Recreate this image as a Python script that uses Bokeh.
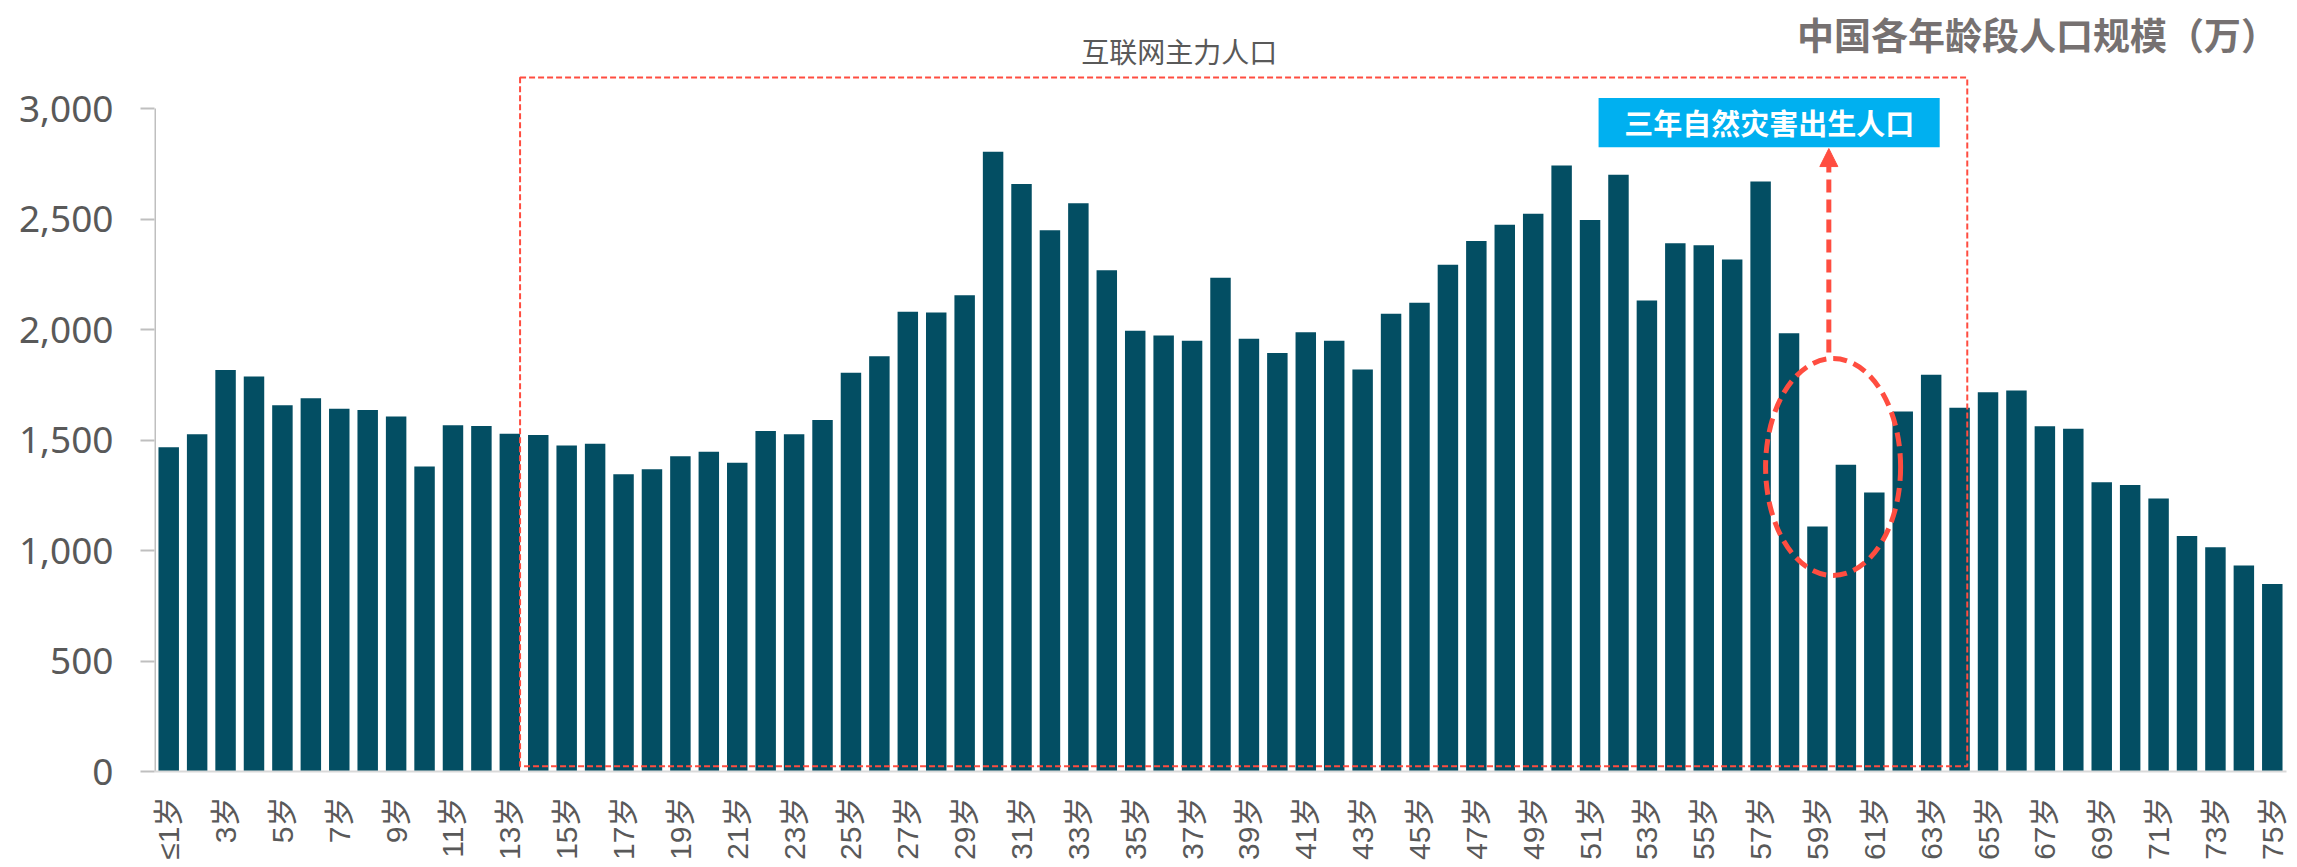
import math
from bokeh.plotting import figure
from bokeh.models import (Range1d, FixedTicker, NumeralTickFormatter, Label,
                          Arrow, NormalHead, ColumnDataSource)
from bokeh.embed import file_html
from bokeh.resources import INLINE

# ---------------- data ----------------
ages = ["≤1岁", "2岁", "3岁", "4岁", "5岁", "6岁", "7岁", "8岁", "9岁", "10岁",
        "11岁", "12岁", "13岁", "14岁", "15岁", "16岁", "17岁", "18岁", "19岁", "20岁",
        "21岁", "22岁", "23岁", "24岁", "25岁", "26岁", "27岁", "28岁", "29岁", "30岁",
        "31岁", "32岁", "33岁", "34岁", "35岁", "36岁", "37岁", "38岁", "39岁", "40岁",
        "41岁", "42岁", "43岁", "44岁", "45岁", "46岁", "47岁", "48岁", "49岁", "50岁",
        "51岁", "52岁", "53岁", "54岁", "55岁", "56岁", "57岁", "58岁", "59岁", "60岁",
        "61岁", "62岁", "63岁", "64岁", "65岁", "66岁", "67岁", "68岁", "69岁", "70岁",
        "71岁", "72岁", "73岁", "74岁", "75岁"]

population = [1467, 1526, 1817, 1787, 1657, 1689, 1641, 1636, 1606, 1380,
              1567, 1564, 1528, 1523, 1475, 1483, 1345, 1368, 1427, 1447,
              1397, 1541, 1526, 1591, 1804, 1879, 2080, 2077, 2155, 2804,
              2659, 2449, 2572, 2268, 1994, 1973, 1949, 2234, 1958, 1894,
              1988, 1949, 1819, 2071, 2121, 2293, 2401, 2474, 2524, 2742,
              2496, 2701, 2131, 2391, 2382, 2317, 2670, 1983, 1109, 1388,
              1262, 1629, 1795, 1646, 1716, 1724, 1562, 1551, 1309, 1296,
              1235, 1066, 1015, 932, 848]

y_ticks = [0, 500, 1000, 1500, 2000, 2500, 3000]

title_text = "中国各年龄段人口规模（万）"
box_text = "互联网主力人口"
callout_text = "三年自然灾害出生人口"

# ---------------- figure ----------------
RED = "#FF4D40"
GRAY = "#595959"

p = figure(width=2297, height=867, output_backend="svg", toolbar_location=None,
           x_range=Range1d(-0.5, len(ages) - 0.5), y_range=Range1d(0, 3489),
           min_border_left=154, min_border_right=11, min_border_top=0,
           min_border_bottom=96)
p.outline_line_color = None
p.grid.visible = False
p.background_fill_color = "white"
p.border_fill_color = "white"

src = ColumnDataSource(dict(x=list(range(len(ages))), top=population, age=ages))
p.vbar(x="x", top="top", bottom=0, width=0.72, source=src,
       fill_color="#034E63", line_color=None)

# y axis
ya = p.yaxis[0]
ya.ticker = FixedTicker(ticks=y_ticks)
ya.formatter = NumeralTickFormatter(format="0,0")
ya.axis_line_color = None
ya.major_tick_out = 14
ya.major_tick_in = 0
ya.major_tick_line_color = "#BFBFBF"
ya.major_tick_line_width = 2
ya.minor_tick_line_color = None
ya.major_label_text_font = "Noto Sans"
ya.major_label_text_font_size = "37px"
ya.major_label_text_color = GRAY
ya.major_label_standoff = 27
p.segment(x0=-0.5, y0=0, x1=-0.5, y1=y_ticks[-1], line_color="#BFBFBF", line_width=3)

# x axis
xa = p.xaxis[0]
even = list(range(0, len(ages), 2))
xa.ticker = FixedTicker(ticks=even)
xa.major_label_overrides = {i: ages[i] for i in even}
xa.major_label_orientation = math.pi / 2
xa.major_tick_out = 0
xa.major_tick_in = 0
xa.minor_tick_line_color = None
xa.axis_line_color = "#D9D9D9"
xa.axis_line_width = 2
xa.major_label_standoff = 25
xa.major_label_text_font = "'Liberation Sans', 'Noto Sans CJK SC'"
xa.major_label_text_font_size = "30px"
xa.major_label_text_color = GRAY

# ---------------- annotations ----------------
# internet main population box
p.quad(left=12.36, right=63.27, bottom=24, top=3140, fill_color=None,
       line_color=RED, line_width=2, line_dash="6 3")
p.add_layout(Label(x=35.55, y=3262, text=box_text, text_align="center",
                   text_baseline="middle", text_font="Noto Sans CJK SC",
                   text_font_size="28px", text_color=GRAY))

# title
p.add_layout(Label(x=74.2, y=3339, text=title_text, text_align="right",
                   text_baseline="middle", text_font="Noto Sans CJK SC",
                   text_font_style="bold", text_font_size="37px",
                   text_color="#767171"))

# callout box
p.quad(left=50.3, right=62.3, bottom=2825, top=3048,
       fill_color="#00B0F0", line_color=None)
p.add_layout(Label(x=56.3, y=2937, text=callout_text, text_align="center",
                   text_baseline="middle", text_font="Noto Sans CJK SC",
                   text_font_style="bold", text_font_size="29px",
                   text_color="white"))

# ellipse around famine years
p.ellipse(x=[58.55], y=[1378], width=4.75, height=982, fill_color=None,
          line_color=RED, line_width=5, line_dash="14 7")

# arrow
p.add_layout(Arrow(end=NormalHead(size=18, fill_color=RED, line_color=RED, line_width=1),
                   x_start=58.4, y_start=1896, x_end=58.4, y_end=2819,
                   line_color=RED, line_width=5, line_dash="13 7"))

open("out.html", "w", encoding="utf-8").write(file_html(p, INLINE))
